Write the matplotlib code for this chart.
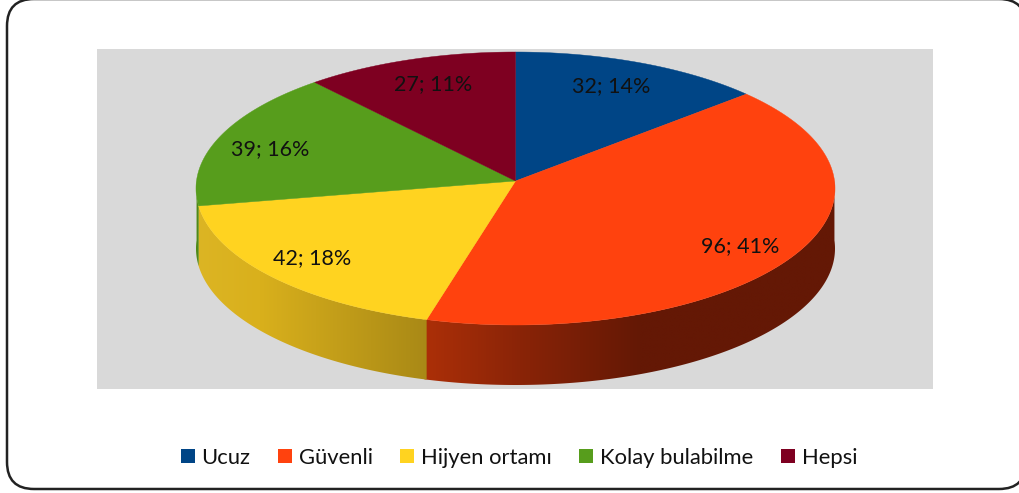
import numpy as np
import matplotlib
matplotlib.use('Agg')
import matplotlib.pyplot as plt
from matplotlib.colors import to_rgb
from matplotlib.patches import FancyBboxPatch, Rectangle, Patch, Polygon

categories = ['Ucuz', 'Güvenli', 'Hijyen ortamı', 'Kolay bulabilme', 'Hepsi']
values = [32, 96, 42, 39, 27]
percents = [14, 41, 18, 16, 11]
colors = ['#004586', '#ff420e', '#ffd320', '#579d1c', '#7e0021']

# where each label sits, in image pixels
label_x = [611, 740, 312, 270, 433]
label_y = [86, 246, 258, 149, 84]

# pie geometry in image pixels
cx, cy = 515.5, 188.5
rx, ry = 319.5, 136.5
apex_y = 181
depth = 60

# shading of the front wall, by slice index: x stops and colours
wall_stops = {
    1: ([427, 520, 640, 840], ['#ab2f08', '#8a2407', '#641805', '#641805']),
    2: ([196, 260, 427], ['#dcb524', '#d9b01c', '#a98916']),
    3: ([196, 202], ['#4e8a18', '#4e8a18']),
}

plt.rcParams['font.family'] = ['Lato', 'DejaVu Sans']

fig = plt.figure(figsize=(10.2, 4.93), dpi=100)
ax = fig.add_axes([0, 0, 1, 1])

ax.add_patch(FancyBboxPatch((32, 24), 969, 440, boxstyle='round,pad=25,rounding_size=27',
                            fc='white', ec='#222222', lw=1.8, zorder=0))
ax.add_patch(Rectangle((97, 49), 836, 340, fc='#d9d9d9', ec='none', zorder=1))


def edge(theta):
    # theta is clockwise from the top, in degrees; small skew for the 3d view
    t = np.radians(theta - 3.4 * np.sin(np.radians(theta)))
    return cx + rx * np.sin(t), cy - ry * np.cos(t)


bounds = np.cumsum([0] + values) / sum(values) * 360

# front wall first, a gradient image clipped to the wall outline
# each piece runs a little past its end so no background shows at the joins
for i in range(len(values)):
    a, b = max(bounds[i], 90), min(bounds[i + 1] + 0.4, 270)
    if a >= b:
        continue
    xs, ys = edge(np.linspace(a, b, 200))
    outline = np.c_[np.r_[xs, xs[::-1]], np.r_[ys, ys[::-1] + depth]]
    xl, xr = outline[:, 0].min(), outline[:, 0].max()
    stop_x, stop_c = wall_stops[i]
    rgb = np.array([to_rgb(c) for c in stop_c])
    gx = np.linspace(xl, xr, 256)
    grad = np.stack([np.interp(gx, stop_x, rgb[:, k]) for k in range(3)], axis=-1)[None, :, :]
    im = ax.imshow(grad, extent=(xl, xr, outline[:, 1].max(), outline[:, 1].min()),
                   aspect='auto', interpolation='bilinear', zorder=2 + i * 0.01)
    clip = Polygon(outline, closed=True, transform=ax.transData, fc='none', ec='none')
    ax.add_patch(clip)
    im.set_clip_path(clip)

# top face
for i in range(len(values)):
    th = np.linspace(bounds[i], bounds[i + 1], 200)
    xs, ys = edge(th)
    ax.fill(np.r_[cx, xs], np.r_[apex_y, ys], fc=colors[i], ec=colors[i], lw=0.3, zorder=3)

for i in range(len(values)):
    ax.text(label_x[i], label_y[i], '%d; %d%%' % (values[i], percents[i]), fontsize=15.5,
            color='#111111', ha='center', va='center', zorder=4)

ax.set_xlim(0, 1020)
ax.set_ylim(493, 0)
ax.axis('off')

handles = [Patch(fc=c, ec='none') for c in colors]
ax.legend(handles, categories, loc='center', bbox_to_anchor=(519, 458),
          bbox_transform=ax.transData, ncol=5, frameon=False, fontsize=15.8,
          handlelength=0.63, handleheight=0.63, handletextpad=0.32, columnspacing=1.25,
          borderpad=0, labelcolor='#111111')

fig.savefig('out.png', dpi=100)
